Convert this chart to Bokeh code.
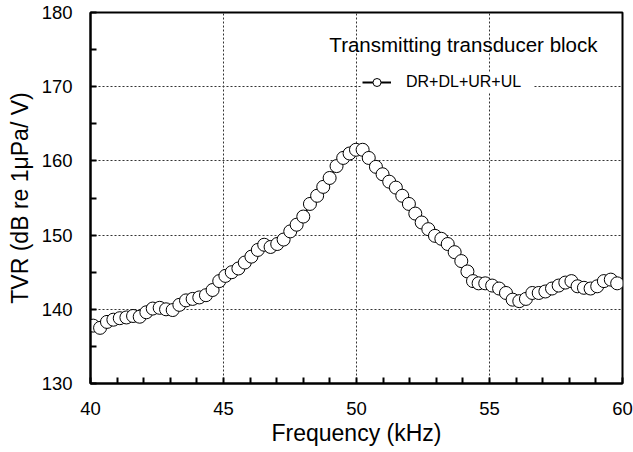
from bokeh.plotting import figure
from bokeh.models import Range1d, Legend, LegendItem, Label, SingleIntervalTicker
from bokeh.embed import file_html
from bokeh.resources import INLINE

# Frequency (kHz) and TVR (dB re 1 uPa/V)
freq = [40.10, 40.36, 40.62, 40.86, 41.10, 41.35, 41.60, 41.85, 42.10, 42.34, 42.60, 42.84,
        43.09, 43.34, 43.59, 43.84, 44.09, 44.34, 44.59, 44.84, 45.07, 45.31, 45.56, 45.80,
        46.05, 46.29, 46.53, 46.77, 47.02, 47.26, 47.51, 47.75, 48.00, 48.25, 48.52, 48.75,
        48.99, 49.25, 49.50, 49.74,
        49.98, 50.23, 50.46, 50.73, 50.98, 51.23, 51.48, 51.72, 51.97, 52.21, 52.45, 52.70,
        52.95, 53.19, 53.43, 53.69, 53.94,
        54.17, 54.38, 54.59, 54.84, 55.10, 55.36, 55.62, 55.87, 56.12, 56.37, 56.61, 56.85,
        57.10, 57.35, 57.60, 57.85, 58.08, 58.31, 58.55, 58.80, 59.05, 59.30, 59.56, 59.80]
tvr = [137.8, 137.5, 138.3, 138.6, 138.8, 138.9, 139.1, 139.0, 139.6, 140.1, 140.2, 140.0,
       139.9, 140.6, 141.2, 141.4, 141.6, 141.9, 142.6, 143.8, 144.5, 145.0, 145.5, 146.3,
       147.1, 148.0, 148.7, 148.4, 148.8, 149.4, 150.5, 151.4, 152.5, 154.2, 155.3, 156.5,
       157.7, 159.3, 160.4, 161.0,
       161.5, 161.5, 160.4, 159.2, 158.2, 157.2, 156.4, 155.3, 154.2, 152.9, 151.7, 150.8,
       149.9, 149.5, 148.8, 147.7, 146.5,
       145.1, 143.8, 143.5, 143.5, 143.2, 142.8, 142.2, 141.3, 141.1, 141.4, 142.2, 142.2,
       142.4, 142.8, 143.2, 143.6, 143.8, 143.1, 142.9, 142.8, 143.1, 143.8, 144.0, 143.5]

series_label = "DR+DL+UR+UL"
legend_title = "Transmitting transducer block"
x_title = "Frequency (kHz)"
y_title = "TVR (dB re 1\u03bcPa/ V)"

FONT = "Liberation Sans"

p = figure(width=633, height=452, x_range=Range1d(40, 60), y_range=Range1d(130, 180),
           output_backend="svg", toolbar_location=None,
           min_border_left=90, min_border_right=11, min_border_top=12, min_border_bottom=69)
p.background_fill_color = "white"
p.border_fill_color = "white"
p.outline_line_color = "black"
p.outline_line_width = 2

p.xaxis.ticker = SingleIntervalTicker(interval=5, num_minor_ticks=5)
p.yaxis.ticker = SingleIntervalTicker(interval=10, num_minor_ticks=2)

for ax in (p.xaxis[0], p.yaxis[0]):
    ax.axis_line_color = "black"
    ax.axis_line_width = 2
    ax.major_tick_in = 0
    ax.major_tick_out = 0
    ax.minor_tick_in = 6
    ax.minor_tick_out = 0
    ax.minor_tick_line_color = "black"
    ax.minor_tick_line_width = 2
    ax.major_label_text_font = FONT
    ax.major_label_text_font_size = "18.5px"
    ax.major_label_text_color = "black"
    ax.axis_label_text_font = FONT
    ax.axis_label_text_font_style = "normal"
    ax.axis_label_text_color = "black"

p.xaxis.axis_label = x_title
p.yaxis.axis_label = y_title
p.xaxis.axis_label_text_font_size = "23px"
p.yaxis.axis_label_text_font_size = "23px"
p.xaxis.major_label_standoff = 18
p.xaxis.axis_label_standoff = 2
p.yaxis.major_label_standoff = 18
p.yaxis.axis_label_standoff = 6

for g in (p.xgrid[0], p.ygrid[0]):
    g.grid_line_color = "#333333"
    g.grid_line_width = 1
    g.grid_line_dash = "2 2"

line_r = p.line(freq, tvr, line_color="black", line_width=2)
scat_r = p.scatter(freq, tvr, marker="circle", size=13, fill_color="white",
                   line_color="black", line_width=1)

legend = Legend(items=[LegendItem(label=series_label, renderers=[line_r, scat_r])],
                location=(272, 291), border_line_color=None,
                background_fill_color="white", background_fill_alpha=1.0,
                label_text_font=FONT, label_text_font_size="16px",
                label_text_color="black",
                glyph_width=29, glyph_height=20, label_standoff=15,
                padding=10, label_width=128, margin=0)
p.add_layout(legend)

p.add_layout(Label(x=54.02, y=175.7, text=legend_title, text_align="center",
                   text_baseline="middle", text_font=FONT, text_font_size="20.5px",
                   text_color="black"))

open("out.html", "w").write(file_html(p, INLINE))
